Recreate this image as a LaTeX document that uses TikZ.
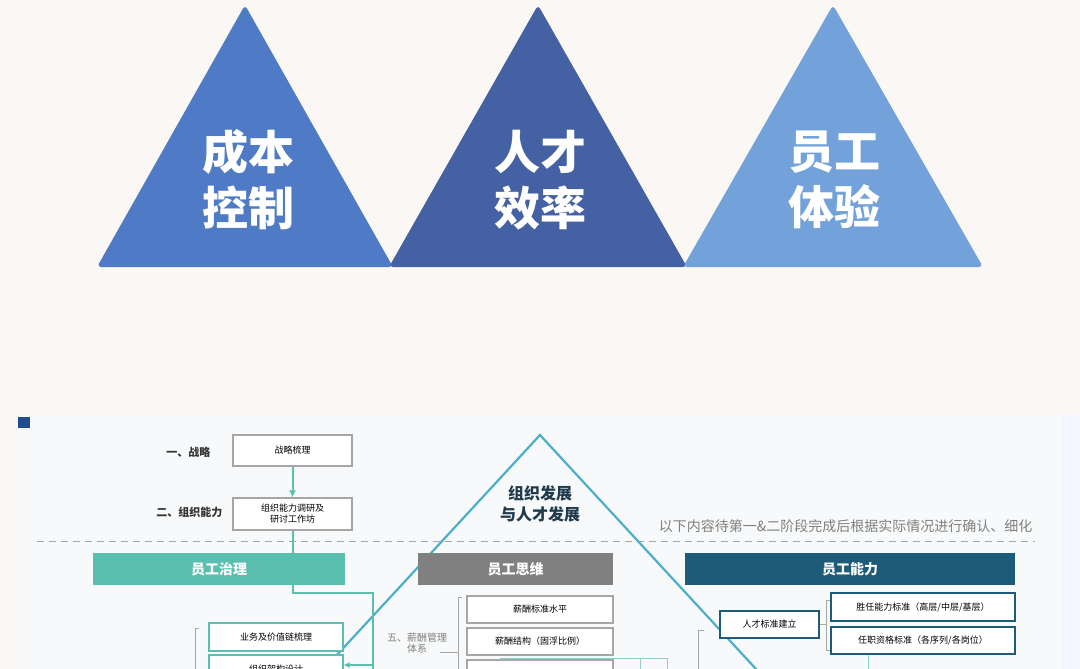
\documentclass[tikz,border=0pt]{standalone}
\usepackage{fontspec}
\usetikzlibrary{arrows.meta}
\newfontfamily\cjk{Noto Sans CJK SC}
\newcommand\cjkb{\cjk\bfseries}
\begin{document}
\begin{tikzpicture}[x=1pt,y=-1pt,
  tri/.style={draw=none,rounded corners=4pt},
  tritxt/.style={text=white,font=\cjkb\fontsize{46}{56}\selectfont,align=center},
  bx/.style={draw=#1,line width=1.2pt,fill=white,font=\cjk\fontsize{9}{11}\selectfont,align=center,inner sep=0pt},
  bar/.style={fill=#1,text=white,font=\cjkb\fontsize{14}{16}\selectfont,inner sep=0pt},
  lbl/.style={font=\cjkb\fontsize{11}{13}\selectfont,text=black!80,align=center},
  tl/.style={draw=teal1,line width=2pt},
  brk/.style={draw=gray!70,line width=0.8pt}]
\definecolor{bgtop}{HTML}{FAF7F4}
\definecolor{panel}{HTML}{F8F9FA}
\definecolor{teal1}{HTML}{5BBFB0}
\definecolor{tri1}{HTML}{4F7BC6}
\definecolor{tri2}{HTML}{4462A3}
\definecolor{tri3}{HTML}{73A2DA}
\definecolor{capl}{HTML}{4BAFC9}
\definecolor{dblue}{HTML}{1D5B78}
\definecolor{navy}{HTML}{1F4E8C}
\definecolor{captxt}{HTML}{1F3B4D}
\useasboundingbox (0,0) rectangle (1080,669);
\clip (0,0) rectangle (1080,669);
\fill[bgtop] (0,0) rectangle (1080,669);
% triangles
\fill[tri1,tri] (245,5) -- (393,267) -- (97,267) -- cycle;
\fill[tri2,tri] (538,5) -- (687,267) -- (389,267) -- cycle;
\fill[tri3,tri] (833,5) -- (983,267) -- (683,267) -- cycle;
\node[tritxt] (t1) at (248,180) {成本\\控制};
\node[tritxt] (t2) at (540,180) {人才\\效率};
\node[tritxt] (t3) at (834,180) {员工\\体验};
% lower panel
\fill[blue!4] (1045,415) rectangle (1080,669);
\fill[panel] (18,415) rectangle (1062,669);
\fill[navy] (18,417) rectangle (30,428);
% dashed line
\draw[gray!70,dash pattern=on 7pt off 5pt,line width=1pt] (37,541) -- (1035,541);
\node[anchor=east,text=gray,font=\cjk\fontsize{14}{16}\selectfont] (note) at (1036,526) {以下内容待第一\&二阶段完成后根据实际情况进行确认、细化};
% big triangle outline
\draw[capl,line width=2.2pt] (300,695) -- (540,435) -- (780,695);
\node[font=\cjkb\fontsize{16}{21}\selectfont,text=captxt,align=center] (cap) at (540,504) {组织发展\\与人才发展};
% top boxes
\node[bx=gray!70,minimum width=119pt,minimum height=31pt] (s1) at (292.5,450.5) {战略梳理};
\node[bx=gray!70,minimum width=119pt,minimum height=32pt] (s2) at (292.5,514) {组织能力调研及\\研讨工作坊};
\node[lbl,anchor=east] (l1) at (214,452) {一、战略};
\node[lbl,anchor=east] (l2) at (226,512) {二、组织能力};
\draw[tl,-{Latex[length=7pt,width=7pt]}] (s1.south) -- (s2.north);
% bars
\node[bar=teal1,minimum width=252pt,minimum height=32pt] (b1) at (219,569) {员工治理};
\node[bar=gray,minimum width=195pt,minimum height=32pt] (b2) at (515.5,569) {员工思维};
\node[bar=dblue,minimum width=330pt,minimum height=32pt] (b3) at (850,569) {员工能力};
\draw[tl] (s2.south) -- (b1.north-|s2.south);
\coordinate (c1) at (293,593);
\coordinate (c2) at (373,593);
\coordinate (c3) at (373,680);
\draw[tl] (b1.south-|c1) -- (c1) -- (c2) -- (c3);
% left boxes
\node[bx=teal1,minimum width=134pt,minimum height=28pt] (g1) at (276,637) {业务及价值链梳理};
\node[bx=teal1,minimum width=134pt,minimum height=28pt] (g2) at (276,669) {组织架构设计};
\coordinate (g2r) at (373,665);
\draw[tl,-{Latex[length=6pt,width=6pt]}] (g2r) -- (g2.east|-g2r);
\draw[brk] (199,628) -- (195,628) -- (195,680);
% middle
\node[bx=gray!70,minimum width=146pt,minimum height=27pt] (m1) at (540,609.5) {薪酬标准水平};
\node[bx=gray!70,minimum width=146pt,minimum height=27pt] (m2) at (540,641.5) {薪酬结构（固浮比例）};
\node[bx=gray!70,minimum width=146pt,minimum height=27pt] (m3) at (540,673.5) {};
\draw[brk] (462,597) -- (458,597) -- (458,680);
\node[font=\cjk\fontsize{10}{11}\selectfont,text=gray,align=center] (l5) at (417,643) {五、薪酬管理\\体系};
\draw[brk] (440,652) -- (458,652);
\draw[teal1!70,line width=0.8pt] (500,658) -- (667,658) (640,658) -- (640,680) (667,658) -- (667,680);
% right
\node[bx=dblue,minimum width=99pt,minimum height=27pt] (r0) at (769.5,624.5) {人才标准建立};
\node[bx=dblue,minimum width=184pt,minimum height=28pt] (r1) at (923,607) {胜任能力标准（高层/中层/基层）};
\node[bx=dblue,minimum width=184pt,minimum height=27pt] (r2) at (923,640.5) {任职资格标准（各序列/各岗位）};
\draw[brk] (r0.east) -- (826,624.5) (830,600) -- (826,600) -- (826,650) -- (830,650);
\draw[brk] (704,630) -- (698,630) -- (698,680);
\coordinate (rb) at (868,680);
\draw[teal1!70,line width=0.8pt] (r2.south-|rb) -- (rb);
\end{tikzpicture}
\end{document}
